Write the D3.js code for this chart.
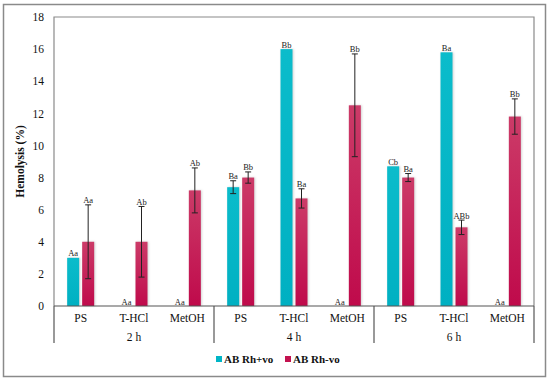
<!DOCTYPE html>
<html>
<head>
<meta charset="utf-8">
<script src="https://cdn.jsdelivr.net/npm/d3@7"></script>
<style>
  body { margin: 0; background: #fff; }
  svg text { font-family: "Times New Roman", "Liberation Serif", Times, serif !important; }
</style>
</head>
<body>
<svg id="chart" width="550" height="381"></svg>
<script>
// data
const groups = ["2 h", "4 h", "6 h"];
const treatments = ["PS", "T-HCl", "MetOH"];
const series = ["AB Rh+vo", "AB Rh-vo"];
const rhPos = [3.0, 0, 0, 7.4, 16.0, 0, 8.7, 15.8, 0];
const rhPosErr = [0, 0, 0, 0.4, 0, 0, 0, 0, 0];
const rhPosLabels = ["Aa", "Aa", "Aa", "Ba", "Bb", "Aa", "Cb", "Ba", "Aa"];
const rhNeg = [4.0, 4.0, 7.2, 8.0, 6.7, 12.5, 8.0, 4.9, 11.8];
const rhNegErr = [2.3, 2.2, 1.4, 0.35, 0.6, 3.2, 0.25, 0.45, 1.1];
const rhNegLabels = ["Aa", "Ab", "Ab", "Bb", "Ba", "Bb", "Ba", "ABb", "Bb"];
const yTicks = [0, 2, 4, 6, 8, 10, 12, 14, 16, 18];

const svg = d3.select("#chart");
const margin = {left: 54, right: 16, top: 17, bottom: 75};
const W = 550, H = 381;

// outer frame
svg.append("rect").attr("x", 3.5).attr("y", 4.5).attr("width", 542).attr("height", 372)
  .attr("fill", "#fff").attr("stroke", "#8a8a8a").attr("stroke-width", 1.5);

const cats = [];
groups.forEach(g => treatments.forEach(t => cats.push(g + "|" + t)));

const x0 = d3.scaleBand().domain(cats).range([margin.left, W - margin.right]);
const x1 = d3.scaleBand().domain(series).range([0, 27]).paddingInner(0.2);
const y = d3.scaleLinear().domain([0, 18]).range([H - margin.bottom, margin.top]);

const defs = svg.append("defs");
const gRed = defs.append("linearGradient").attr("id", "gred").attr("x1", 0).attr("x2", 0).attr("y1", 0).attr("y2", 1);
gRed.append("stop").attr("offset", "0%").attr("stop-color", "#cc3b68");
gRed.append("stop").attr("offset", "100%").attr("stop-color", "#bf0a4b");
const gCyan = defs.append("linearGradient").attr("id", "gcyan").attr("x1", 0).attr("x2", 0).attr("y1", 0).attr("y2", 1);
gCyan.append("stop").attr("offset", "0%").attr("stop-color", "#0bbccb");
gCyan.append("stop").attr("offset", "100%").attr("stop-color", "#00b0c2");
const colors = {"AB Rh+vo": "url(#gcyan)", "AB Rh-vo": "url(#gred)"};
const legendColors = {"AB Rh+vo": "#00b5c6", "AB Rh-vo": "#c3124f"};

// plot area frame
svg.append("path")
  .attr("d", `M${margin.left},${y(0)}V${y(18)}H${W - margin.right}V${y(0)}`)
  .attr("fill", "none").attr("stroke", "#8a8a8a").attr("stroke-width", 1.2);

// y axis labels
const yAxis = d3.axisLeft(y).tickValues(yTicks).tickSize(0).tickPadding(10);
const ya = svg.append("g").attr("transform", `translate(${margin.left},0)`).call(yAxis);
ya.select(".domain").remove();
ya.attr("font-family", null);
ya.selectAll("text").attr("font-size", 11.5).attr("fill", "#111");

svg.append("text").attr("transform", `translate(24,${(y(0) + y(18)) / 2}) rotate(-90)`)
  .attr("text-anchor", "middle").attr("font-size", 11.5).attr("font-weight", "bold")
  .attr("fill", "#111").text("Hemolysis (%)");

// bars
const rows = cats.map((c, i) => [
  {cat: c, s: series[0], v: rhPos[i], e: rhPosErr[i], lab: rhPosLabels[i]},
  {cat: c, s: series[1], v: rhNeg[i], e: rhNegErr[i], lab: rhNegLabels[i]}
]).flat();

const bx = d => x0(d.cat) + x0.bandwidth() / 2 - 13.5 + x1(d.s);

svg.append("g").selectAll("rect").data(rows.filter(d => d.v > 0)).join("rect")
  .attr("x", bx).attr("y", d => y(d.v))
  .attr("width", x1.bandwidth()).attr("height", d => y(0) - y(d.v))
  .attr("fill", d => colors[d.s])
  .style("filter", "drop-shadow(1px 0px 1px rgba(0,0,0,0.18))");

// error bars
const eb = svg.append("g").attr("stroke", "#222").attr("stroke-width", 1);
rows.filter(d => d.e > 0).forEach(d => {
  const cx = bx(d) + x1.bandwidth() / 2;
  eb.append("line").attr("x1", cx).attr("x2", cx).attr("y1", y(d.v + d.e)).attr("y2", y(d.v - d.e));
  [d.v + d.e, d.v - d.e].forEach(v => {
    eb.append("line").attr("x1", cx - 3).attr("x2", cx + 3).attr("y1", y(v)).attr("y2", y(v));
  });
});

// letter labels
svg.append("g").selectAll("text").data(rows).join("text")
  .attr("x", d => bx(d) + x1.bandwidth() / 2)
  .attr("y", d => y(d.v + d.e) - 1.5)
  .attr("text-anchor", "middle").attr("font-size", 8.5).attr("fill", "#222")
  .text(d => d.lab);

// x axis: line, category labels, group separators
svg.append("line").attr("x1", margin.left).attr("x2", W - margin.right)
  .attr("y1", y(0)).attr("y2", y(0)).attr("stroke", "#555").attr("stroke-width", 1.2);

svg.append("g").selectAll("text").data(cats).join("text")
  .attr("x", d => x0(d) + x0.bandwidth() / 2).attr("y", y(0) + 16)
  .attr("text-anchor", "middle").attr("font-size", 11.5).attr("fill", "#111")
  .text(d => d.split("|")[1]);

const gw = x0.bandwidth() * treatments.length;
svg.append("g").selectAll("text").data(groups).join("text")
  .attr("x", (d, i) => margin.left + gw * (i + 0.5)).attr("y", y(0) + 35)
  .attr("text-anchor", "middle").attr("font-size", 11.5).attr("fill", "#111")
  .text(d => d);

svg.append("g").selectAll("line").data(d3.range(groups.length + 1)).join("line")
  .attr("x1", i => margin.left + gw * i).attr("x2", i => margin.left + gw * i)
  .attr("y1", y(0)).attr("y2", y(0) + 37)
  .attr("stroke", "#555").attr("stroke-width", 1.2);

// legend
const lg = svg.append("g").attr("transform", "translate(216,363)");
const lx = [0, 69];
series.forEach((s, i) => {
  lg.append("rect").attr("x", lx[i]).attr("y", -7).attr("width", 6).attr("height", 6)
    .attr("fill", legendColors[s]);
  lg.append("text").attr("x", lx[i] + 8).attr("y", 0).attr("font-size", 11)
    .attr("font-weight", "bold").attr("fill", "#111").text(s);
});
</script>
</body>
</html>
